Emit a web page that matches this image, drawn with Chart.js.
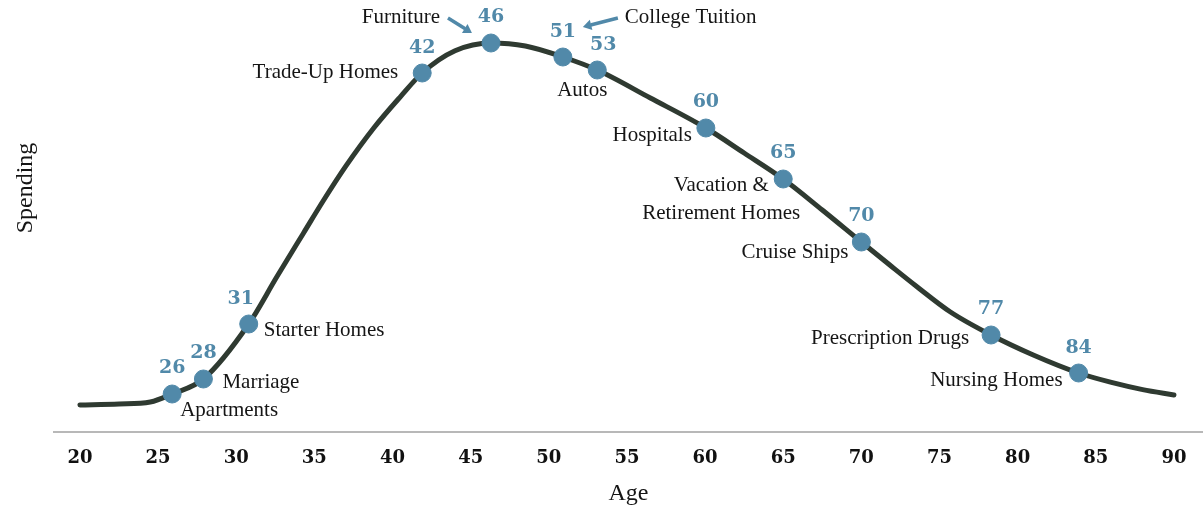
<!DOCTYPE html>
<html>
<head>
<meta charset="utf-8">
<script src="https://cdn.jsdelivr.net/npm/chart.js@4"></script>
<style>
  html, body { margin: 0; padding: 0; background: #fff; }
  #wrap { width: 1203px; height: 508px; }
</style>
</head>
<body>
<div id="wrap"><canvas id="myChart" width="1203" height="508"></canvas></div>
<script>
// spending curve (age, relative spending)
const curveAges = [20, 22.5, 24.5, 25.9, 27.9, 30.8, 32.6, 34.3, 35.6, 37, 38.8, 40.5, 41.9, 44, 46.3, 48.5, 50.9, 53.1, 56.5, 60.05, 62.5, 65, 67.5, 70, 71.8, 73.5, 75.7, 78.3, 81, 83.9, 86, 88, 90];
const curveSpending = [6.75, 7.0, 7.5, 9.5, 13.25, 27, 38.8, 49.7, 58, 66.4, 76, 83.8, 89.75, 95.3, 97.25, 96.5, 93.75, 90.5, 83.5, 76, 69.75, 63.25, 55.5, 47.5, 41.8, 36.5, 30.0, 24.25, 19.25, 14.75, 12.4, 10.6, 9.25];

// marked life events
const markerAges = [25.9, 27.9, 30.8, 41.9, 46.3, 50.9, 53.1, 60.05, 65, 70, 78.3, 83.9];
const markerSpending = [9.5, 13.25, 27, 89.75, 97.25, 93.75, 90.5, 76, 63.25, 47.5, 24.25, 14.75];
const markerNumbers = ['26', '28', '31', '42', '46', '51', '53', '60', '65', '70', '77', '84'];
const markerNames = ['Apartments', 'Marriage', 'Starter Homes', 'Trade-Up Homes', 'Furniture', 'College Tuition', 'Autos', 'Hospitals', ['Vacation &', 'Retirement Homes'], 'Cruise Ships', 'Prescription Drugs', 'Nursing Homes'];

const ageTicks = [20, 25, 30, 35, 40, 45, 50, 55, 60, 65, 70, 75, 80, 85, 90];

// where each label sits relative to its dot: [dx, dy, align]
const namePlace = [[8, 16, 'left'], [19, 3, 'left'], [15, 6, 'left'], [-24, -1, 'right'], [-51, -26, 'right'], [62, -40, 'left'], [-15, 20, 'center'], [-14, 7, 'right'], [-62, 6, 'center'], [-13, 10, 'right'], [-22, 3, 'right'], [-16, 7, 'right']];
const numberPlace = [[0, -26], [0, -26], [-8, -25], [0, -25], [0, -26], [0, -25], [6, -25], [0, -26], [0, -26], [0, -26], [0, -26], [0, -25]];
// arrows for Furniture and College Tuition (relative to dot)
const arrows = { 4: [-43, -25, -19, -10], 5: [55, -39, 20, -30] };

const BLUE = '#5189a9';
const INK = '#2f3a31';
const LABEL_FONT = '21px "Liberation Serif", serif';
const NUM_FONT = 'bold 19px "DejaVu Serif", serif';

function drawArrow(ctx, x1, y1, x2, y2) {
    const ang = Math.atan2(y2 - y1, x2 - x1);
    const head = 10;
    ctx.beginPath();
    ctx.moveTo(x1, y1);
    ctx.lineTo(x2 - Math.cos(ang) * head * 0.8, y2 - Math.sin(ang) * head * 0.8);
    ctx.stroke();
    ctx.beginPath();
    ctx.moveTo(x2, y2);
    ctx.lineTo(x2 - head * Math.cos(ang - 0.55), y2 - head * Math.sin(ang - 0.55));
    ctx.lineTo(x2 - head * Math.cos(ang + 0.55), y2 - head * Math.sin(ang + 0.55));
    ctx.closePath();
    ctx.fill();
}

const labelPlugin = {
    id: 'lifeLabels',
    afterDatasetsDraw(chart) {
        const ctx = chart.ctx;
        const xs = chart.scales.x, ys = chart.scales.y;
        ctx.save();
        markerAges.forEach((age, i) => {
            const px = xs.getPixelForValue(age);
            const py = ys.getPixelForValue(markerSpending[i]);
            // number above dot
            ctx.font = NUM_FONT;
            ctx.fillStyle = BLUE;
            ctx.textAlign = 'center';
            ctx.textBaseline = 'middle';
            ctx.fillText(markerNumbers[i], px + numberPlace[i][0], py + numberPlace[i][1]);
            // event name
            ctx.font = LABEL_FONT;
            ctx.fillStyle = '#151515';
            const [dx, dy, align] = namePlace[i];
            ctx.textAlign = align;
            const lines = Array.isArray(markerNames[i]) ? markerNames[i] : [markerNames[i]];
            lines.forEach((t, k) => ctx.fillText(t, px + dx, py + dy + k * 28));
            if (arrows[i]) {
                const a = arrows[i];
                ctx.strokeStyle = BLUE;
                ctx.fillStyle = BLUE;
                ctx.lineWidth = 3.5;
                drawArrow(ctx, px + a[0], py + a[1], px + a[2], py + a[3]);
            }
        });
        // y axis title drawn by hand so the plot edge stays put
        ctx.font = '24px "Liberation Serif", serif';
        ctx.fillStyle = '#151515';
        ctx.textAlign = 'center';
        ctx.textBaseline = 'middle';
        ctx.translate(26, 188);
        ctx.rotate(-Math.PI / 2);
        ctx.fillText('Spending', 0, 0);
        ctx.restore();
    }
};

const ctx = document.getElementById('myChart').getContext('2d');
new Chart(ctx, {
    type: 'scatter',
    data: {
        datasets: [
            {
                label: 'Markers',
                data: markerAges.map((a, i) => ({ x: a, y: markerSpending[i] })),
                backgroundColor: BLUE,
                borderColor: BLUE,
                pointRadius: 9,
                pointHoverRadius: 9,
                showLine: false,
                order: 0
            },
            {
                label: 'Spending',
                data: curveAges.map((a, i) => ({ x: a, y: curveSpending[i] })),
                showLine: true,
                borderColor: INK,
                borderWidth: 5,
                borderCapStyle: 'round',
                pointRadius: 0,
                cubicInterpolationMode: 'monotone',
                order: 1
            }
        ]
    },
    options: {
        responsive: false,
        animation: false,
        layout: { autoPadding: false, padding: { left: 54, right: 0, top: 32, bottom: 0 } },
        plugins: { legend: { display: false }, tooltip: { enabled: false } },
        scales: {
            x: {
                type: 'linear',
                min: 18.34,
                max: 91.86,
                afterBuildTicks: axis => { axis.ticks = ageTicks.map(v => ({ value: v })); },
                afterFit: axis => { axis.height = 76; },
                grid: { display: false, drawTicks: false },
                border: { display: true, color: '#b8b8b8', width: 2 },
                ticks: {
                    autoSkip: false,
                    maxRotation: 0,
                    padding: 16,
                    color: '#111',
                    font: { family: '"DejaVu Serif", serif', weight: 'bold', size: 18 }
                },
                title: {
                    display: true,
                    text: 'Age',
                    color: '#151515',
                    padding: { top: 10, bottom: 0 },
                    font: { family: '"Liberation Serif", serif', size: 24 }
                }
            },
            y: {
                display: false,
                min: 0,
                max: 100
            }
        }
    },
    plugins: [labelPlugin]
});
</script>
</body>
</html>
